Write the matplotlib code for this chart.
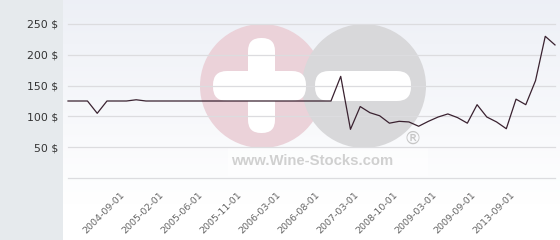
import numpy as np
import matplotlib
matplotlib.use("Agg")
import matplotlib.pyplot as plt
from matplotlib.patches import Circle, FancyBboxPatch

# price per bottle, one value per listing
prices = [125, 125, 125, 105, 125, 125, 125, 127,
          125, 125, 125, 125, 125, 125, 125, 125, 125, 125,
          125, 125, 125, 125, 125, 125, 125, 125, 125, 125,
          165, 79, 116, 106, 101, 89, 92, 91, 84, 92,
          99, 104, 98, 89, 119, 99, 91, 80, 128, 119,
          158, 230, 216]
label_idx = [6, 10, 14, 18, 22, 26, 30, 34, 38, 42, 46]
tick_labels = ["2004-09-01", "2005-02-01", "2005-06-01", "2005-11-01",
               "2006-03-01", "2006-08-01", "2007-03-01", "2008-10-01",
               "2009-03-01", "2009-09-01", "2013-09-01"]
y_ticks = [50, 100, 150, 200, 250]

W, H = 560, 240
fig = plt.figure(figsize=(W / 100, H / 100), dpi=100)
fig.patch.set_facecolor("#e6eaed")

# plot background with soft gradient
bg = fig.add_axes([63 / W, 0, (W - 63) / W, 1], zorder=0)
grad = np.linspace(0, 1, 240).reshape(-1, 1)
top = np.array([0.93, 0.94, 0.965])
bottom = np.array([1.0, 1.0, 1.0])
t = np.clip(grad / 0.85, 0, 1)
img = top * (1 - t)[..., None] + bottom * t[..., None]
img = img.reshape(240, 1, 3)
bg.imshow(img, aspect="auto", extent=[0, 1, 0, 1], origin="upper")
bg.axis("off")

# watermark in pixel coords
wm = fig.add_axes([0, 0, 1, 1], zorder=1)
wm.set_xlim(0, W)
wm.set_ylim(H, 0)
wm.axis("off")
wm.patch.set_alpha(0)
wm.add_patch(FancyBboxPatch((228, 148), 200, 28, boxstyle="square,pad=0",
                            fc="white", ec="none", alpha=0.6))
wm.add_patch(Circle((262, 86), 62, fc="#ebd2d9", ec="none"))
wm.add_patch(Circle((364, 86), 62, fc="#d8d8da", ec="none"))
wm.add_patch(FancyBboxPatch((248, 38), 27, 95, boxstyle="round,pad=0,rounding_size=13",
                            fc="white", ec="none"))
wm.add_patch(FancyBboxPatch((213, 71), 93, 30, boxstyle="round,pad=0,rounding_size=14",
                            fc="white", ec="none"))
wm.add_patch(FancyBboxPatch((315, 71), 96, 30, boxstyle="round,pad=0,rounding_size=14",
                            fc="white", ec="none"))
wm.text(312, 161, "www.Wine-Stocks.com", ha="center", va="center",
        fontsize=10.7, fontweight="bold", family="Liberation Sans", color="#d0d0d0")
wm.text(413, 139, "®", ha="center", va="center", fontsize=13,
        family="DejaVu Sans", color="#c6c6c6")

# data axes
ax = fig.add_axes([68 / W, (H - 178) / H, 487 / W, 154 / H], zorder=2)
ax.patch.set_alpha(0)
x = np.arange(len(prices))
ax.set_xlim(0, len(prices) - 1)
ax.set_ylim(0, 250)
for v in [0] + y_ticks:
    ax.axhline(v, color="#dcdcdf", lw=0.9, zorder=1, clip_on=False)
ax.plot(x, prices, color="#3a2230", lw=0.9, zorder=3, clip_on=False)

ax.set_yticks(y_ticks)
ax.set_yticklabels([f"{v} $" for v in y_ticks], fontsize=7.8, color="#333333")
ax.set_xticks(label_idx)
ax.set_xticklabels(tick_labels, rotation=45, ha="right", va="top",
                   fontsize=6.8, color="#666666")
ax.tick_params(axis="y", length=0, pad=7)
ax.tick_params(axis="x", length=0, pad=9)
for s in ax.spines.values():
    s.set_visible(False)

fig.savefig("out.png", dpi=100)
